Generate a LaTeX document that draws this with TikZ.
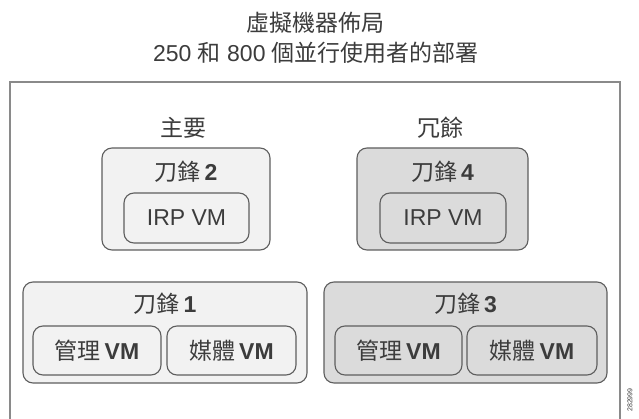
\documentclass[tikz,border=0pt]{standalone}
\usepackage{fontspec}
\setmainfont{Liberation Sans}
\newfontfamily\cjk{Noto Sans CJK TC}
\definecolor{txt}{HTML}{3C3C3C}
\definecolor{edge}{HTML}{5E5E5E}
\definecolor{frame}{HTML}{8A8A8A}
\definecolor{lightfill}{HTML}{F2F2F2}
\definecolor{darkfill}{HTML}{DBDBDB}
\begin{document}
\begin{tikzpicture}[x=1pt,y=-1pt,
  every node/.style={text=txt,font=\fontsize{23}{27}\selectfont,inner sep=0pt},
  blade/.style={draw=edge,line width=1.1pt,rounded corners=10pt},
  vmbox/.style={draw=edge,line width=1.1pt,rounded corners=10pt},
  lt/.style={fill=lightfill},
  dk/.style={fill=darkfill}]
\useasboundingbox (0,0) rectangle (639,419);
\fill[white] (0,0) rectangle (639,419);
% outer frame
\draw[frame,line width=1.6pt] (10,425) -- (10,82) -- (620,82) -- (620,425);
% title
\node (t1) at (315,23) {\cjk 虛擬機器佈局};
\node (t2) at (316,53) {250 {\cjk 和} 800 {\cjk 個並行使用者的部署}};
% group labels
\node (primary) at (183,128) {\cjk 主要};
\node (redund) at (440,128) {\cjk 冗餘};
% blades
\node[blade,lt,minimum width=168pt,minimum height=102pt] (b2) at (186,199) {};
\node[blade,dk,minimum width=171pt,minimum height=102pt] (b4) at (442.5,199) {};
\node[blade,lt,minimum width=284pt,minimum height=101pt] (b1) at (165,332.5) {};
\node[blade,dk,minimum width=283pt,minimum height=101pt] (b3) at (465.5,332.5) {};
% blade titles
\node (b2t) at (186,172) {{\cjk 刀鋒}\,\textbf{2}};
\node (b4t) at (442.5,172) {{\cjk 刀鋒}\,\textbf{4}};
\node (b1t) at (165,304) {{\cjk 刀鋒}\,\textbf{1}};
\node (b3t) at (465.5,304) {{\cjk 刀鋒}\,\textbf{3}};
% VMs
\node[vmbox,lt,minimum width=125pt,minimum height=50pt] (irp2) at (186.5,218) {IRP VM};
\node[vmbox,dk,minimum width=126pt,minimum height=50pt] (irp4) at (443,218) {IRP VM};
\node[vmbox,lt,minimum width=128pt,minimum height=49pt] (m1) at (97,350.5) {{\cjk 管理}\,\textbf{VM}};
\node[vmbox,lt,minimum width=129pt,minimum height=49pt] (d1) at (231.5,350.5) {{\cjk 媒體}\,\textbf{VM}};
\node[vmbox,dk,minimum width=127pt,minimum height=49pt] (m3) at (398.5,350.5) {{\cjk 管理}\,\textbf{VM}};
\node[vmbox,dk,minimum width=130pt,minimum height=49pt] (d3) at (532,350.5) {{\cjk 媒體}\,\textbf{VM}};
% figure number
\node[rotate=90,font=\fontsize{7}{8}\selectfont] (fig) at (630,400) {282999};
\end{tikzpicture}
\end{document}
